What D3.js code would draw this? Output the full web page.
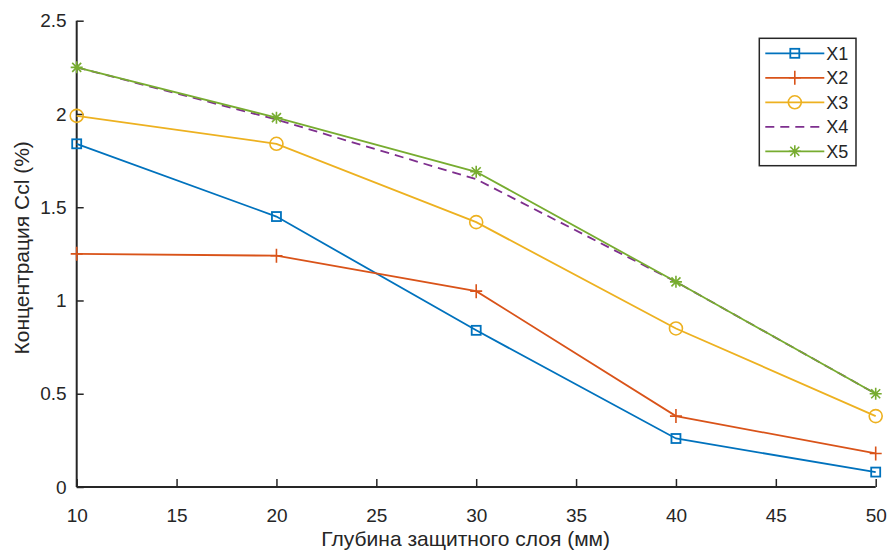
<!DOCTYPE html>
<html>
<head>
<meta charset="utf-8">
<script src="https://cdn.jsdelivr.net/npm/d3@7"></script>
<style>
  body { margin: 0; background: #fff; }
  text { font-family: "Liberation Sans", Arial, sans-serif; fill: #262626; }
</style>
</head>
<body>
<div class="chart"></div>
<script>
var depth = [10, 20, 30, 40, 50];
var x1 = [1.84, 1.45, 0.84, 0.26, 0.08];
var x2 = [1.25, 1.24, 1.05, 0.38, 0.18];
var x3 = [1.99, 1.84, 1.42, 0.85, 0.38];
var x4 = [2.25, 1.97, 1.65, 1.10, 0.50];
var x5 = [2.25, 1.98, 1.69, 1.10, 0.50];
var seriesNames = ["X1", "X2", "X3", "X4", "X5"];
var xTicks = [10, 15, 20, 25, 30, 35, 40, 45, 50];
var yTicks = [0, 0.5, 1, 1.5, 2, 2.5];

var series = [
    {name: "X1", values: x1, color: "#0072BD", marker: "square", dash: null},
    {name: "X2", values: x2, color: "#D95319", marker: "plus", dash: null},
    {name: "X3", values: x3, color: "#EDB120", marker: "circle", dash: null},
    {name: "X4", values: x4, color: "#7E2F8E", marker: "none", dash: "9,6"},
    {name: "X5", values: x5, color: "#77AC30", marker: "star", dash: null}
];

var margin = {top: 20.7, right: 12, bottom: 63, left: 76.7},
    width = 888 - margin.left - margin.right,
    height = 550 - margin.top - margin.bottom;

var svg = d3.select(".chart")
    .append("svg")
    .attr("width", 888)
    .attr("height", 550)
    .append("g")
    .attr("transform", "translate(" + margin.left + "," + margin.top + ")");

var x = d3.scaleLinear().domain([10, 50]).range([0, 799]);
var y = d3.scaleLinear().domain([0, 2.5]).range([height, 0]);

// axes, ticks pointing inward like matlab
var xAxis = svg.append("g")
    .attr("transform", "translate(0," + height + ")")
    .call(d3.axisBottom(x).tickValues(xTicks).tickSize(-8).tickPadding(22).tickFormat(d3.format("d")));
var yAxis = svg.append("g")
    .call(d3.axisLeft(y).tickValues(yTicks).tickSize(-7).tickPadding(10).tickFormat(function(d) { return d; }));

[xAxis, yAxis].forEach(function(a) {
    a.select(".domain").attr("stroke", "#262626").attr("stroke-width", 2);
    a.selectAll(".tick line").attr("stroke", "#262626").attr("stroke-width", 1.5);
    a.selectAll(".tick text").attr("font-size", "19px").attr("fill", "#262626");
});
xAxis.select(".domain").attr("d", "M0,0H799");
yAxis.select(".domain").attr("d", "M0," + height + "V0");

svg.append("text")
    .attr("x", 389)
    .attr("y", height + 59)
    .attr("text-anchor", "middle")
    .attr("font-size", "21px")
    .text("Глубина защитного слоя (мм)");

svg.append("text")
    .attr("transform", "translate(-48," + (height / 2 - 6) + ") rotate(-90)")
    .attr("text-anchor", "middle")
    .attr("font-size", "21px")
    .text("Концентрация Ccl (%)");

function drawMarker(g, type, color) {
    if (type === "square") {
        g.append("rect").attr("x", -4.5).attr("y", -4.5).attr("width", 9).attr("height", 9)
            .attr("fill", "none").attr("stroke", color).attr("stroke-width", 1.8);
    } else if (type === "circle") {
        g.append("circle").attr("r", 6.5)
            .attr("fill", "none").attr("stroke", color).attr("stroke-width", 1.6);
    } else if (type === "plus") {
        g.append("path").attr("d", "M-6,0H6M0,-7V7")
            .attr("stroke", color).attr("stroke-width", 1.6);
    } else if (type === "star") {
        g.append("path").attr("d", "M-6,0H6M0,-6V6M-4.5,-4.5L4.5,4.5M-4.5,4.5L4.5,-4.5")
            .attr("stroke", color).attr("stroke-width", 1.6);
    }
}

var line = d3.line()
    .x(function(d, i) { return x(depth[i]); })
    .y(function(d) { return y(d); });

series.forEach(function(s) {
    svg.append("path")
        .datum(s.values)
        .attr("d", line)
        .attr("fill", "none")
        .attr("stroke", s.color)
        .attr("stroke-width", 1.8)
        .attr("stroke-dasharray", s.dash);
    s.values.forEach(function(v, i) {
        var g = svg.append("g").attr("transform", "translate(" + x(depth[i]) + "," + y(v) + ")");
        drawMarker(g, s.marker, s.color);
    });
});

// legend
var legend = svg.append("g").attr("transform", "translate(" + (759.3 - margin.left) + "," + (38.3 - margin.top) + ")");
legend.append("rect")
    .attr("width", 96.7).attr("height", 127.4)
    .attr("fill", "#fff").attr("stroke", "#262626").attr("stroke-width", 1.5);
series.forEach(function(s, i) {
    var ly = 15 + i * 24.5;
    legend.append("line")
        .attr("x1", 6).attr("x2", 65).attr("y1", ly).attr("y2", ly)
        .attr("stroke", s.color).attr("stroke-width", 1.8)
        .attr("stroke-dasharray", s.dash);
    var g = legend.append("g").attr("transform", "translate(35.5," + ly + ")");
    drawMarker(g, s.marker, s.color);
    legend.append("text")
        .attr("x", 67).attr("y", ly + 6.5)
        .attr("font-size", "18px")
        .text(seriesNames[i]);
});
</script>
</body>
</html>
